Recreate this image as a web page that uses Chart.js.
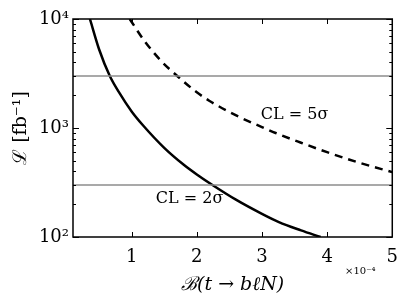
<!DOCTYPE html>
<html>
<head>
<meta charset="utf-8">
<script src="https://cdn.jsdelivr.net/npm/chart.js@4.4.1/dist/chart.umd.min.js"></script>
<style>
  html, body { margin: 0; padding: 0; background: #fff; }
</style>
</head>
<body>
<canvas id="c" width="408" height="300"></canvas>
<script>
// valores (B em unidades de 1e-4, L em fb^-1)
const bSolid = [0.36, 0.5, 0.665, 0.8, 1.0, 1.17, 1.5, 1.8, 2.0, 2.24, 2.6, 3.0, 3.26, 3.6, 3.9];
const lSolid = [10000, 5280, 3000, 2156, 1420, 1066, 658, 460, 375, 300, 220, 163, 137, 115, 100];
const bDashed = [0.97, 1.2, 1.45, 1.7, 2.0, 2.19, 2.62, 3.0, 3.21, 3.6, 4.0, 4.5, 5.0];
const lDashed = [10000, 6250, 4140, 3000, 2125, 1780, 1290, 1020, 900, 733, 600, 479, 394];
const refLines = [3000, 300];
const xRange = [0.1, 5];
const xTicks = [1, 2, 3, 4, 5];
const yTicks = [100, 1000, 10000];
const yTickLabels = ['10²', '10³', '10⁴'];
const yMinorTicks = [200, 300, 400, 500, 600, 700, 800, 900, 2000, 3000, 4000, 5000, 6000, 7000, 8000, 9000];
const notes = [
  { text: 'CL = 5σ', x: 3.5, y: 1316 },
  { text: 'CL = 2σ', x: 1.89, y: 224 }
];

const serif = '"DejaVu Serif", serif';

const pts = (xs, ys) => xs.map((v, i) => ({ x: v, y: ys[i] }));

const datasets = [
  ...refLines.map(v => ({
    data: pts(xRange, [v, v]),
    borderColor: '#8c8c8c', borderWidth: 1.5, pointRadius: 0
  })),
  {
    data: pts(bSolid, lSolid),
    borderColor: '#000', borderWidth: 2.5, pointRadius: 0, cubicInterpolationMode: 'monotone'
  },
  {
    data: pts(bDashed, lDashed),
    borderColor: '#000', borderWidth: 2.5, borderDash: [8, 6], pointRadius: 0, cubicInterpolationMode: 'monotone'
  }
];

// moldura, ticks para dentro e textos
const moldura = {
  id: 'moldura',
  afterDraw(chart) {
    const { ctx, chartArea: a, scales: { x, y } } = chart;
    ctx.save();
    ctx.strokeStyle = '#000';
    ctx.lineWidth = 1;
    const hTick = (v, len) => {
      const p = Math.round(y.getPixelForValue(v)) + 0.5;
      ctx.beginPath();
      ctx.moveTo(a.left, p); ctx.lineTo(a.left + len, p);
      ctx.moveTo(a.right, p); ctx.lineTo(a.right - len, p);
      ctx.stroke();
    };
    yMinorTicks.forEach(v => hTick(v, 3));
    yTicks.forEach(v => hTick(v, 6));
    xTicks.forEach(v => {
      const p = Math.round(x.getPixelForValue(v)) + 0.5;
      ctx.beginPath();
      ctx.moveTo(p, a.bottom); ctx.lineTo(p, a.bottom - 5);
      ctx.moveTo(p, a.top); ctx.lineTo(p, a.top + 5);
      ctx.stroke();
    });
    ctx.lineWidth = 1.5;
    ctx.strokeRect(a.left, a.top, a.width, a.height);

    ctx.fillStyle = '#000';
    ctx.font = '16px ' + serif;
    ctx.textAlign = 'center';
    ctx.textBaseline = 'middle';
    notes.forEach(n => ctx.fillText(n.text, x.getPixelForValue(n.x), y.getPixelForValue(n.y)));

    ctx.font = '10px ' + serif;
    ctx.fillText('×10⁻⁴', a.right - 32, a.bottom + 34);
    ctx.restore();
  }
};

new Chart(document.getElementById('c'), {
  type: 'line',
  data: { datasets },
  options: {
    responsive: false,
    animation: false,
    layout: { padding: { top: 19, right: 14, left: 0, bottom: 0 } },
    plugins: { legend: { display: false }, tooltip: { enabled: false } },
    scales: {
      x: {
        type: 'linear', min: xRange[0], max: xRange[1],
        afterBuildTicks: s => { s.ticks = xTicks.map(v => ({ value: v })); },
        afterFit: s => { s.height = 63; },
        grid: { display: false, drawTicks: false },
        border: { display: false },
        ticks: { color: '#000', padding: 10, font: { family: serif, size: 18 } },
        title: {
          display: true, text: 'ℬ(t → bℓN)', color: '#000',
          font: { family: serif, size: 19, style: 'italic' }, padding: { top: 2 }
        }
      },
      y: {
        type: 'logarithmic', min: 100, max: 10000,
        afterBuildTicks: s => { s.ticks = yTicks.map(v => ({ value: v })); },
        afterFit: s => { s.width = 73; },
        grid: { display: false, drawTicks: false },
        border: { display: false },
        ticks: {
          color: '#000', padding: 4, font: { family: serif, size: 18 },
          callback: v => yTickLabels[yTicks.indexOf(v)]
        },
        title: {
          display: true, text: 'ℒ [fb⁻¹]', color: '#000',
          font: { family: serif, size: 19 }, padding: { top: 10, bottom: 2 }
        }
      }
    }
  },
  plugins: [moldura]
});
</script>
</body>
</html>
